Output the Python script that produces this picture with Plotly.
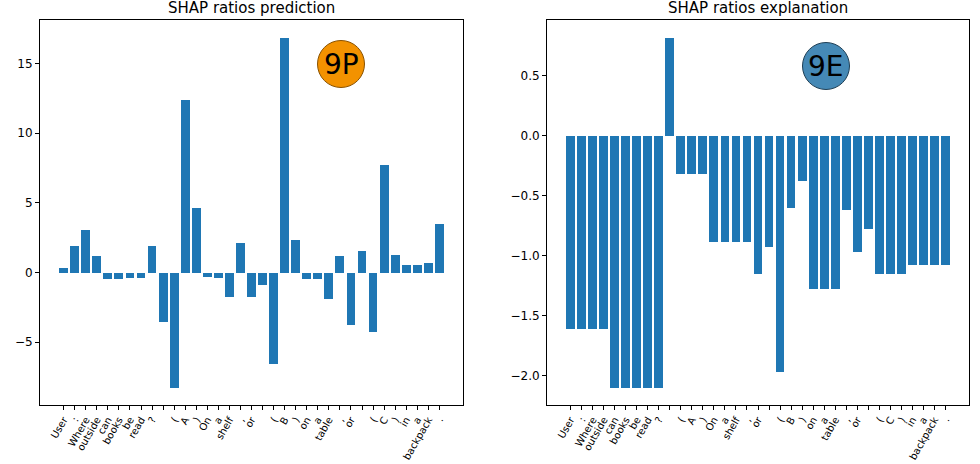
import plotly.graph_objects as go

tokens = ["User", ":", "Where", "outside", "can", "books", "be", "read", "?", " ",
          "(", "A", ")", "On", "a", "shelf", ",", "or", " ",
          "(", "B", ")", "on", "a", "table", ",", "or", " ",
          "(", "C", ")", "in", "a", "backpack", "."]

pred_values = [0.29, 1.87, 3.02, 1.15, -0.5, -0.5, -0.43, -0.43, 1.87, -3.59,
               -8.26, 12.36, 4.6, -0.29, -0.36, -1.79, 2.15, -1.79, -0.93,
               -6.54, 16.88, 2.3, -0.5, -0.5, -1.87, 1.15, -3.74, 1.58,
               -4.24, 7.69, 1.29, 0.57, 0.57, 0.65, 3.52]

expl_values = [-1.61, -1.61, -1.61, -1.61, -2.1, -2.1, -2.1, -2.1, -2.1, 0.82,
               -0.32, -0.32, -0.32, -0.89, -0.89, -0.89, -0.89, -1.15, -0.925,
               -1.97, -0.6, -0.375, -1.275, -1.275, -1.275, -0.617, -0.967, -0.775,
               -1.15, -1.15, -1.15, -1.075, -1.075, -1.075, -1.075]

titles = ["SHAP ratios prediction", "SHAP ratios explanation"]
badges = ["9P", "9E"]
badge_colors = ["#F39200", "#4589B6"]
badge_lines = ["#8a5200", "#1f3f55"]

W, H = 980, 464
BAR = "#1f77b4"
FONT = "DejaVu Sans"

x_idx = list(range(len(tokens)))

fig = go.Figure()
fig.add_trace(go.Bar(x=x_idx, y=pred_values, marker=dict(color=BAR, line=dict(width=0)),
                     width=0.8, xaxis="x", yaxis="y", showlegend=False))
fig.add_trace(go.Bar(x=x_idx, y=expl_values, marker=dict(color=BAR, line=dict(width=0)),
                     width=0.8, xaxis="x2", yaxis="y2", showlegend=False))

ydom = [1 - 405 / H, 1 - 20 / H]
xdom1 = [40 / W, 463 / W]
xdom2 = [547 / W, 969 / W]

def yrange(vals):
    lo, hi = min(vals), max(vals)
    m = (hi - lo) * 0.05
    return [lo - m, hi + m]

n = len(tokens)
xr = [-0.4 - 0.05 * (n - 1 + 0.8), n - 1 + 0.4 + 0.05 * (n - 1 + 0.8)]

xaxis_common = dict(range=xr, tickmode="array", tickvals=x_idx, ticktext=tokens,
                    tickangle=-60, ticks="outside", ticklen=4, tickcolor="black",
                    showline=True, linecolor="black", linewidth=1, mirror=True,
                    showgrid=False, zeroline=False, automargin=False,
                    tickfont=dict(family=FONT, size=10, color="black"))
yaxis_common = dict(ticks="outside", ticklen=4, tickcolor="black",
                    showline=True, linecolor="black", linewidth=1, mirror=True,
                    showgrid=False, zeroline=False, automargin=False,
                    tickfont=dict(family=FONT, size=12, color="black"))

fig.update_layout(
    width=W, height=H,
    margin=dict(l=0, r=0, t=0, b=0, autoexpand=False),
    paper_bgcolor="white", plot_bgcolor="white",
    bargap=0,
    xaxis=dict(domain=xdom1, anchor="y", **xaxis_common),
    yaxis=dict(domain=ydom, anchor="x", range=yrange(pred_values),
               tickvals=[-5, 0, 5, 10, 15], ticktext=["\u22125", "0", "5", "10", "15"],
               **yaxis_common),
    xaxis2=dict(domain=xdom2, anchor="y2", **xaxis_common),
    yaxis2=dict(domain=ydom, anchor="x2", range=yrange(expl_values),
                tickvals=[-2.0, -1.5, -1.0, -0.5, 0.0, 0.5],
                ticktext=["\u22122.0", "\u22121.5", "\u22121.0", "\u22120.5", "0.0", "0.5"],
                **yaxis_common),
)

# titles
for i, t in enumerate(titles):
    xd = xdom1 if i == 0 else xdom2
    fig.add_annotation(text=t, xref="paper", yref="paper", x=(xd[0] + xd[1]) / 2,
                       y=1 - 8 / H, showarrow=False, xanchor="center", yanchor="middle",
                       borderpad=0,
                       font=dict(family=FONT, size=15, color="black"))

# badges
centers = [(341, 64), (826, 66)]
r = 23.5
for (cx, cy), lab, col, lc in zip(centers, badges, badge_colors, badge_lines):
    fig.add_shape(type="circle", xref="paper", yref="paper",
                  xsizemode="pixel", ysizemode="pixel",
                  xanchor=cx / W, yanchor=1 - cy / H,
                  x0=-r, x1=r, y0=-r, y1=r,
                  fillcolor=col, line=dict(color=lc, width=1))
    fig.add_annotation(text=lab, xref="paper", yref="paper", x=cx / W, y=1 - cy / H,
                       showarrow=False, xanchor="center", yanchor="middle",
                       font=dict(family=FONT, size=28, color="black"))

fig.write_html("out.html", config={"displayModeBar": False, "staticPlot": True},
               post_script="document.body.style.margin='0';document.body.style.overflow='hidden';")
